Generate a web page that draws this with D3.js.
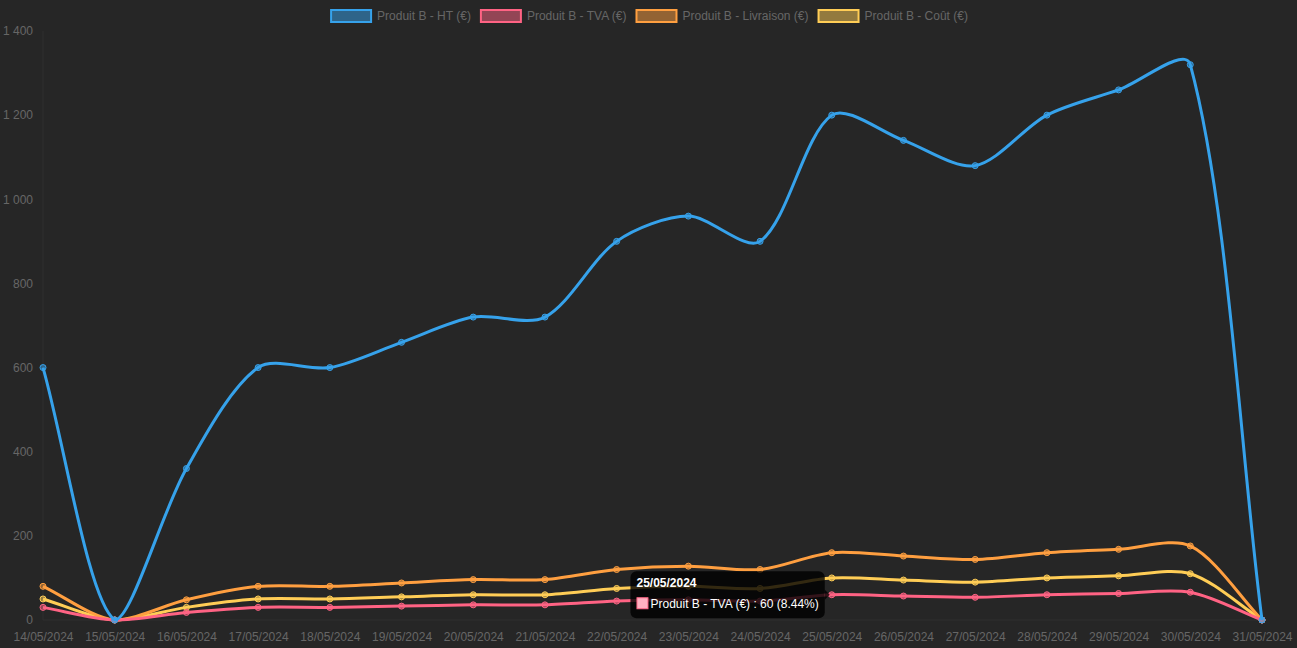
<!DOCTYPE html>
<html>
<head>
<meta charset="utf-8">
<script src="https://cdn.jsdelivr.net/npm/d3@7"></script>
<style>
  html, body { margin: 0; padding: 0; background: #262626; }
  svg { display: block; }
  text { font-family: "Liberation Sans", Arial, Helvetica, sans-serif; }
</style>
</head>
<body>
<svg id="chart" width="1297" height="648"></svg>
<script>
// ---- data ----
const dates = ["14/05/2024","15/05/2024","16/05/2024","17/05/2024","18/05/2024","19/05/2024","20/05/2024","21/05/2024","22/05/2024","23/05/2024","24/05/2024","25/05/2024","26/05/2024","27/05/2024","28/05/2024","29/05/2024","30/05/2024","31/05/2024"];
const seriesHT        = [600, 0, 360, 600, 600, 660, 720, 720, 900, 960, 900, 1200, 1140, 1080, 1200, 1260, 1320, 0];
const seriesTVA       = [30, 0, 18, 30, 30, 33, 36, 36, 45, 48, 45, 60, 57, 54, 60, 63, 66, 0];
const seriesLivraison = [80, 0, 48, 80, 80, 88, 96, 96, 120, 128, 120, 160, 152, 144, 160, 168, 176, 0];
const seriesCout      = [50, 0, 30, 50, 50, 55, 60, 60, 75, 80, 75, 100, 95, 90, 100, 105, 110, 0];
const seriesNames = ["Produit B - HT (€)", "Produit B - TVA (€)", "Produit B - Livraison (€)", "Produit B - Coût (€)"];
const yTicks = [0, 200, 400, 600, 800, 1000, 1200, 1400];
const tooltipDate = "25/05/2024";
const tooltipSeries = 1;

const colors = [[54,162,235],[255,99,132],[255,159,64],[255,205,86]];
const allSeries = [seriesHT, seriesTVA, seriesLivraison, seriesCout];
const rgb = (c, a) => a === undefined ? `rgb(${c[0]},${c[1]},${c[2]})` : `rgba(${c[0]},${c[1]},${c[2]},${a})`;

const svg = d3.select("#chart");
const area = {left: 43, right: 1262, top: 31, bottom: 620};
const x = d3.scalePoint().domain(dates).range([area.left, area.right]);
const y = d3.scaleLinear().domain([0, 1400]).range([area.bottom, area.top]);

// axis lines (faint)
svg.append("line").attr("x1", area.left).attr("x2", area.left).attr("y1", area.top).attr("y2", area.bottom)
  .attr("stroke", "#2f2f2f").attr("stroke-width", 1);
svg.append("line").attr("x1", area.left).attr("x2", area.right).attr("y1", area.bottom).attr("y2", area.bottom)
  .attr("stroke", "#2f2f2f").attr("stroke-width", 1);

// y axis
const yAxis = svg.append("g").attr("transform", `translate(${area.left},0)`)
  .call(d3.axisLeft(y).tickValues(yTicks).tickSize(0).tickPadding(10)
    .tickFormat(d => d3.format(",")(d).replace(/,/g, " ")));
yAxis.select(".domain").remove();
yAxis.selectAll("text").attr("fill", "#666").style("font-size", "12px");

// x axis
const xAxis = svg.append("g").attr("transform", `translate(0,${area.bottom})`)
  .call(d3.axisBottom(x).tickSize(0).tickPadding(12));
xAxis.select(".domain").remove();
xAxis.selectAll("text").attr("fill", "#666").style("font-size", "12px");

// Chart.js-style spline with capped control points
function splinePath(vals) {
  const pts = vals.map((v, i) => ({x: x(dates[i]), y: y(v)}));
  const t = 0.3;
  const cap = (p) => ({x: Math.max(area.left, Math.min(area.right, p.x)), y: Math.max(area.top, Math.min(area.bottom, p.y))});
  const cps = pts.map((cur, i) => {
    const prev = pts[i - 1] || cur, next = pts[i + 1] || cur;
    const d01 = Math.hypot(cur.x - prev.x, cur.y - prev.y);
    const d12 = Math.hypot(next.x - cur.x, next.y - cur.y);
    let s01 = d01 / (d01 + d12), s12 = d12 / (d01 + d12);
    if (isNaN(s01)) s01 = 0; if (isNaN(s12)) s12 = 0;
    const fa = t * s01, fb = t * s12;
    return {
      prev: cap({x: cur.x - fa * (next.x - prev.x), y: cur.y - fa * (next.y - prev.y)}),
      next: cap({x: cur.x + fb * (next.x - prev.x), y: cur.y + fb * (next.y - prev.y)})
    };
  });
  const p = d3.path();
  p.moveTo(pts[0].x, pts[0].y);
  for (let i = 1; i < pts.length; i++) {
    p.bezierCurveTo(cps[i-1].next.x, cps[i-1].next.y, cps[i].prev.x, cps[i].prev.y, pts[i].x, pts[i].y);
  }
  return p.toString();
}

// draw datasets last to first (first on top)
for (let s = allSeries.length - 1; s >= 0; s--) {
  const g = svg.append("g");
  g.append("path").attr("d", splinePath(allSeries[s])).attr("fill", "none")
    .attr("stroke", rgb(colors[s])).attr("stroke-width", 3).attr("stroke-linejoin", "round");
  g.selectAll("circle").data(allSeries[s]).join("circle")
    .attr("cx", (d, i) => x(dates[i])).attr("cy", d => y(d)).attr("r", 3)
    .attr("fill", rgb(colors[s], 0.5)).attr("stroke", rgb(colors[s])).attr("stroke-width", 1);
}

// legend
const legend = svg.append("g");
const items = [];
seriesNames.forEach((name, i) => {
  const g = legend.append("g");
  g.append("rect").attr("x", 1).attr("y", 10).attr("width", 40).attr("height", 12)
    .attr("fill", rgb(colors[i], 0.5)).attr("stroke", rgb(colors[i])).attr("stroke-width", 2);
  const tx = g.append("text").attr("x", 47).attr("y", 16).attr("dy", "0.35em")
    .attr("fill", "#666").style("font-size", "12px").text(name);
  items.push({g, w: 46 + tx.node().getComputedTextLength()});
});
const gap = 10;
const totalW = d3.sum(items, d => d.w) + gap * (items.length - 1);
let cx = (1297 - totalW) / 2;
items.forEach(it => { it.g.attr("transform", `translate(${cx},0)`); cx += it.w + gap; });

// tooltip
const idx = dates.indexOf(tooltipDate);
const val = allSeries[tooltipSeries][idx];
const total = d3.sum(allSeries[tooltipSeries]);
const px = x(tooltipDate), py = y(val);
const tip = svg.append("g");
const bg = tip.append("rect").attr("rx", 6).attr("ry", 6).attr("fill", "rgba(0,0,0,0.8)");
const caret = tip.append("path").attr("fill", "rgba(0,0,0,0.8)");
const title = tip.append("text").attr("fill", "#fff").style("font-size", "12px").style("font-weight", "bold").text(tooltipDate);
const body = tip.append("text").attr("fill", "#fff").style("font-size", "12px")
  .text(`${seriesNames[tooltipSeries]} : ${val} (${(val / total * 100).toFixed(2)}%)`);
const bw = 6 + Math.max(title.node().getComputedTextLength(), 14 + body.node().getComputedTextLength()) + 6;
const bh = 47;
const bx = px - 7 - bw, by = py - bh / 2;
bg.attr("x", bx).attr("y", by).attr("width", bw).attr("height", bh);
caret.attr("d", `M${bx + bw},${py - 5}L${bx + bw + 5},${py}L${bx + bw},${py + 5}Z`);
title.attr("x", bx + 6).attr("y", by + 16);
tip.append("rect").attr("x", bx + 6.5).attr("y", by + 26.5).attr("width", 11).attr("height", 11).attr("fill", "#fff");
tip.append("rect").attr("x", bx + 6.5).attr("y", by + 26.5).attr("width", 11).attr("height", 11)
  .attr("fill", rgb(colors[tooltipSeries], 0.5)).attr("stroke", rgb(colors[tooltipSeries])).attr("stroke-width", 1);
body.attr("x", bx + 6 + 14).attr("y", by + 36.5);
</script>
</body>
</html>
